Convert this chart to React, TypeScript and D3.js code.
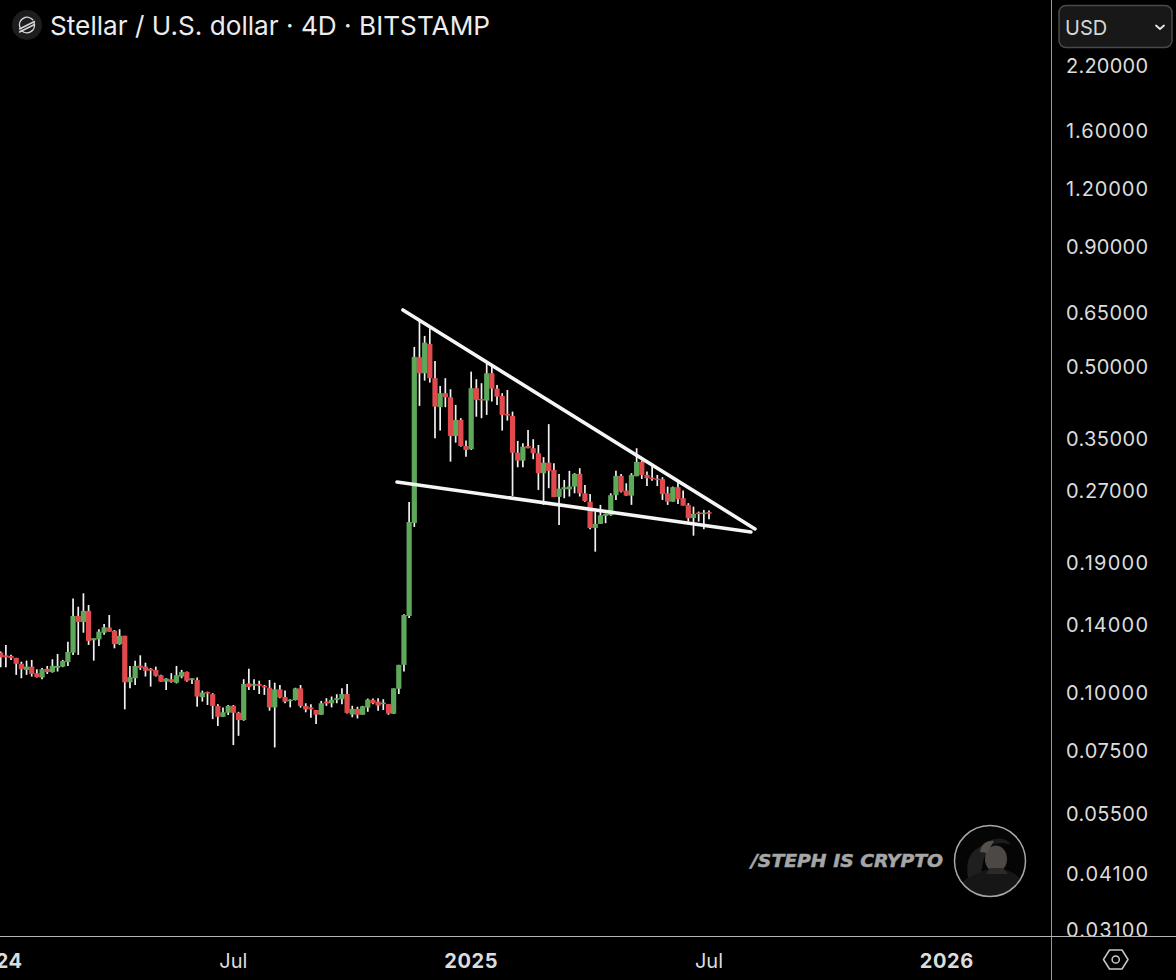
import React from "react";
import * as d3 from "d3";

const highs = [.1218,.1259,.1200,.1181,.1159,.1165,.1169,.1117,.1123,.1135,.1173,.1204,.1169,.1278,.1582,.1520,.1624,.1533,.1301,.1360,.1396,.1459,.1355,.1360,.1317,.1135,.1165,.1196,.1153,.1123,.1131,.1086,.1068,.1095,.1135,.1113,.1104,.1068,.1072,.1005,.1000,.0992,.0940,.0924,.0936,.0936,.0905,.1063,.1119,.1063,.1055,.1033,.1059,.1045,.1033,.1005,.0963,.1019,.1033,.0944,.0940,.0913,.0955,.0968,.0976,.0987,.1016,.1038,.0932,.0928,.0932,.0966,.0966,.0968,.0963,.0940,.1016,.1141,.1465,.2549,.5476,.6256,.5781,.6005,.5110,.4517,.4693,.4444,.4113,.3852,.3449,.4848,.4669,.4578,.5052,.4968,.4540,.4358,.4429,.3980,.3444,.3405,.3636,.3473,.3376,.3179,.3741,.3084,.2927,.2841,.2971,.2937,.3010,.2771,.2650,.2430,.2512,.2405,.2660,.2971,.2927,.2794,.2937,.3322,.3125,.2960,.3044,.2912,.2879,.2749,.2749,.2818,.2695,.2533,.2490,.2430,.2450,.2442];
const lows = [.1128,.1128,.1169,.1086,.1068,.1086,.1077,.1072,.1063,.1091,.1098,.1104,.1128,.1135,.1198,.1198,.1337,.1259,.1165,.1252,.1323,.1344,.1238,.1259,.0916,.1017,.1033,.1113,.1077,.1025,.1077,.1050,.1008,.1045,.1041,.1068,.1050,.1038,.0928,.0952,.0936,.0873,.0844,.0883,.0891,.0768,.0804,.0866,.1008,.1008,.0988,.0984,.0910,.0759,.0968,.0944,.0925,.0957,.0924,.0903,.0879,.0852,.0892,.0932,.0925,.0944,.0940,.0898,.0881,.0876,.0892,.0905,.0940,.0910,.0913,.0892,.0895,.0988,.1104,.1438,.2253,.4093,.4637,.4592,.3490,.3624,.4067,.3109,.3415,.3348,.3187,.3294,.3881,.3852,.3915,.4181,.4113,.3624,.3807,.2625,.3024,.3024,.3322,.3147,.2704,.2512,.2727,.2610,.2275,.2596,.2618,.2660,.2618,.2552,.2228,.1994,.2287,.2295,.2380,.2574,.2669,.2627,.2512,.2893,.2855,.2757,.2831,.2757,.2574,.2512,.2552,.2524,.2503,.2313,.2158,.2313,.2228,.2340];
const opens = [.1212,.1196,.1192,.1181,.1147,.1113,.1131,.1095,.1072,.1119,.1101,.1124,.1131,.1157,.1212,.1452,.1410,.1489,.1288,.1294,.1337,.1371,.1350,.1264,.1317,.1047,.1068,.1137,.1131,.1119,.1113,.1084,.1050,.1063,.1045,.1077,.1102,.1059,.1059,.0973,.0998,.0987,.0932,.0883,.0901,.0932,.0901,.0869,.1041,.1029,.1038,.1029,.1019,.0925,.1011,.0973,.0955,.0959,.1016,.0932,.0925,.0913,.0892,.0952,.0944,.0960,.0963,.0988,.0893,.0918,.0892,.0924,.0960,.0952,.0940,.0940,.0897,.1014,.1141,.1452,.2298,.5204,.4808,.5555,.4693,.4067,.4358,.4272,.3529,.3820,.3359,.3306,.4467,.4237,.4202,.4808,.4458,.4299,.3935,.3895,.3250,.3125,.3359,.3322,.3241,.2937,.3093,.2985,.2613,.2713,.2713,.2750,.2927,.2660,.2552,.2242,.2287,.2380,.2387,.2635,.2899,.2695,.2630,.2893,.3105,.2912,.2874,.2860,.2851,.2660,.2552,.2741,.2596,.2512,.2355,.2418,.2405,.2424];
const closes = [.1184,.1184,.1179,.1147,.1117,.1131,.1091,.1074,.1117,.1101,.1135,.1135,.1163,.1216,.1452,.1410,.1489,.1284,.1301,.1344,.1373,.1344,.1264,.1317,.1047,.1074,.1135,.1124,.1108,.1109,.1081,.1050,.1066,.1049,.1084,.1102,.1055,.1068,.0976,.0995,.0992,.0932,.0883,.0903,.0932,.0901,.0869,.1038,.1023,.1038,.1029,.1021,.0925,.1011,.0971,.0951,.0961,.1016,.0932,.0916,.0916,.0892,.0944,.0943,.0960,.0968,.0988,.0900,.0918,.0892,.0930,.0961,.0944,.0933,.0947,.0897,.1016,.1141,.1459,.2309,.5213,.4808,.5593,.4693,.4080,.4358,.4272,.3529,.3820,.3359,.3294,.4467,.4216,.4210,.4808,.4458,.4285,.3915,.3902,.3250,.3125,.3348,.3322,.3241,.2937,.3093,.2971,.2610,.2722,.2741,.2750,.2927,.2660,.2561,.2242,.2287,.2387,.2405,.2635,.2899,.2681,.2630,.2910,.3105,.2912,.2866,.2851,.2841,.2650,.2552,.2741,.2583,.2503,.2352,.2405,.2405,.2418,.2405];

const priceTicks = [2.2, 1.6, 1.2, 0.9, 0.65, 0.5, 0.35, 0.27, 0.19, 0.14, 0.1, 0.075, 0.055, 0.041, 0.031];
const timeTickBars = [-1, 45, 91, 137, 183];
const timeTickLabels = ["2024", "Jul", "2025", "Jul", "2026"];
const timeTickBold = [true, false, true, false, true];

const upperLineBars = [77.8, 145.9];
const upperLinePrices = [0.6572, 0.2231];
const lowerLineBars = [76.65, 145.1];
const lowerLinePrices = [0.2812, 0.2198];

const GREEN = "#5ea85a";
const RED = "#e04a4c";
const FONT = "Inter, 'Noto Sans', sans-serif";

export default function App() {
  const x = d3.scaleLinear().domain([0, 137]).range([0.7, 709]);
  const y = d3.scaleLog().domain([2.2, 0.031]).range([65, 929]);
  const line = d3.line<[number, number]>().x((d) => x(d[0])).y((d) => y(d[1]));
  const upper = upperLineBars.map((b, i) => [b, upperLinePrices[i]] as [number, number]);
  const lower = lowerLineBars.map((b, i) => [b, lowerLinePrices[i]] as [number, number]);
  const bodyW = 5.2;

  return (
    <svg
      width={1176}
      height={980}
      viewBox="0 0 1176 980"
      style={{ position: "absolute", left: 0, top: 0, background: "#000", display: "block" }}
    >
      <defs>
        <clipPath id="pane">
          <rect x={0} y={0} width={1051} height={936} />
        </clipPath>
        <clipPath id="axisPane">
          <rect x={1052} y={0} width={124} height={936} />
        </clipPath>
        <clipPath id="avatar">
          <circle cx={990} cy={861} r={35} />
        </clipPath>
      </defs>
      <rect x={0} y={0} width={1176} height={980} fill="#000" />

      <g clipPath="url(#pane)">
        {highs.map((h, i) => (
          <line key={i} x1={x(i)} x2={x(i)} y1={y(h)} y2={y(lows[i])} stroke="#f2f2f2" strokeWidth={1.7} />
        ))}
        {opens.map((o, i) => {
          const c = closes[i];
          const top = y(Math.max(o, c));
          const bot = y(Math.min(o, c));
          return (
            <rect
              key={i}
              x={x(i) - bodyW / 2}
              y={top}
              width={bodyW}
              height={Math.max(bot - top, 1.5)}
              fill={c >= o ? GREEN : RED}
            />
          );
        })}
        <path d={line(upper) ?? ""} fill="none" stroke="#f5f5f5" strokeWidth={3.6} strokeLinecap="round" />
        <path d={line(lower) ?? ""} fill="none" stroke="#f5f5f5" strokeWidth={3.6} strokeLinecap="round" />
      </g>

      {/* title */}
      <circle cx={27} cy={25} r={15} fill="#1d1d1f" />
      <g fill="none" stroke="#d8d8d8" strokeWidth={1.4} strokeLinecap="round">
        <path d="M20 27.5 A7.6 7.6 0 0 1 32.8 19.8" />
        <path d="M34 22.5 A7.6 7.6 0 0 1 21.2 30.2" />
        <path d="M19.5 29 L34.5 21.5" />
        <path d="M19.5 32 L34.5 24.5" />
      </g>
      <text x={50} y={35} fill="#ececec" fontFamily={FONT} fontSize={26.2}>
        Stellar / U.S. dollar · 4D · BITSTAMP
      </text>

      {/* axis frame */}
      <line x1={1051.5} x2={1051.5} y1={0} y2={980} stroke="#9a9a9a" strokeWidth={1} />
      <line x1={0} x2={1176} y1={936.5} y2={936.5} stroke="#b5b5b5" strokeWidth={1} />

      {/* price axis */}
      <g clipPath="url(#axisPane)">
        {priceTicks.map((t) => (
          <text
            key={t}
            x={1066}
            y={y(t) + 1}
            dy="0.36em"
            fill="#dcdcdc"
            fontFamily={FONT}
            fontSize={20}
            textLength={82}
            lengthAdjust="spacing"
          >
            {t.toFixed(5)}
          </text>
        ))}
      </g>

      {/* currency button */}
      <rect x={1059} y={5.5} width={113} height={42} rx={7} fill="#181818" stroke="#4a4a4a" strokeWidth={1.5} />
      <text x={1065} y={35} fill="#d6d6d6" fontFamily={FONT} fontSize={20}>
        USD
      </text>
      <path d="M1156 25.5 L1160 29 L1164 25.5" fill="none" stroke="#e6e6e6" strokeWidth={1.8} strokeLinecap="round" strokeLinejoin="round" />

      {/* time axis */}
      {timeTickBars.map((b, i) => (
        <text
          key={i}
          x={x(b)}
          y={967.5}
          textAnchor="middle"
          fill="#dcdcdc"
          fontFamily={FONT}
          fontSize={20}
          fontWeight={timeTickBold[i] ? 700 : 400}
          letterSpacing={timeTickBold[i] ? 0.6 : 0}
        >
          {timeTickLabels[i]}
        </text>
      ))}

      {/* settings hexagon */}
      <path d="M1109.5 950 L1122 950 L1128 959.5 L1122 969 L1109.5 969 L1103.5 959.5 Z" fill="none" stroke="#c8c8c8" strokeWidth={1.5} strokeLinejoin="round" />
      <circle cx={1115.7} cy={959.5} r={3.6} fill="none" stroke="#c8c8c8" strokeWidth={1.5} />

      {/* watermark */}
      <text
        x={751}
        y={866.5}
        fill="#a6a6a6"
        stroke="#a6a6a6"
        strokeWidth={0.5}
        fontFamily="'DejaVu Sans', sans-serif"
        fontWeight={700}
        fontStyle="italic"
        fontSize={18.5}
        textLength={192}
        lengthAdjust="spacingAndGlyphs"
      >
        /STEPH IS CRYPTO
      </text>
      <g clipPath="url(#avatar)">
        <rect x={954} y={825} width={72} height={72} fill="#050505" />
        <path d="M956 897 C958 880 972 874 986 870 L1006 870 C1018 874 1026 880 1026 897 Z" fill="#161616" />
        <path d="M968 878 C966 864 968 856 975 850 L983 845 L989 849 L984 858 L981 872 Z" fill="#1f1f1f" />
        <ellipse cx={996} cy={859} rx={11} ry={13.5} fill="#4d4845" />
        <path d="M984 849 C986 838 1005 834 1011 845 C1003 842 992 843 984 849 Z" fill="#1b1b1b" />
        <path d="M980 852 C981 843 988 840 994 841 L987 853 Z" fill="#55504c" />
        <path d="M990 868 L1003 868 L1008 874 L986 874 Z" fill="#2c2a28" />
      </g>
      <circle cx={990} cy={861} r={35.5} fill="none" stroke="#a8a8a8" strokeWidth={1.5} />
    </svg>
  );
}
